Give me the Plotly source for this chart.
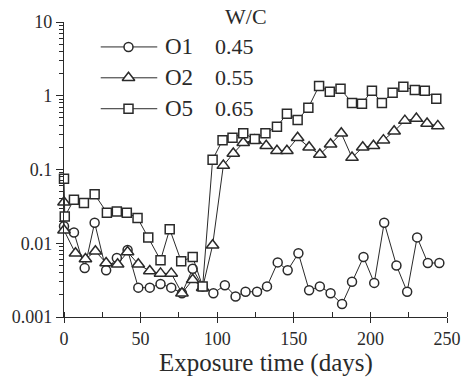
import plotly.graph_objects as go

# ---- data ----
o1_days = [0, 6.5, 13.5, 20, 27.5, 34.5, 41.5, 48.5, 56, 63, 70, 77, 84, 90.5, 97.5, 105, 112, 118.5,
           126, 132.5, 139.5, 146, 153, 160, 167, 174, 181.5, 188, 195.5, 202.5, 209, 217, 224, 230.5,
           237.5, 245]
o1_vals = [0.017, 0.014, 0.0046, 0.019, 0.0043, 0.0063, 0.0081, 0.0025, 0.0025, 0.0028, 0.0025, 0.0021,
           0.0045, 0.0026, 0.0021, 0.0027, 0.0019, 0.0022, 0.0022, 0.0026, 0.0055, 0.0043, 0.0073, 0.0023,
           0.0026, 0.0021, 0.0015, 0.0030, 0.0065, 0.0029, 0.019, 0.0050, 0.0022, 0.012, 0.0054, 0.0054]

o2_days = [0, 0, 7.5, 14, 20.5, 27.5, 35, 41.5, 48.5, 56, 63, 70, 77, 84, 90.5, 97, 104, 110.5, 117,
           124.5, 132, 139, 145.5, 152.5, 160, 167, 174, 181, 188, 195, 202, 208.5, 215.5, 222.5, 230,
           237, 244]
o2_vals = [0.036, 0.015, 0.0073, 0.0061, 0.0078, 0.0054, 0.0052, 0.0076, 0.0052, 0.0042, 0.0039, 0.0039,
           0.0021, 0.0032, 0.0025, 0.0094, 0.113, 0.165, 0.23, 0.25, 0.21, 0.18, 0.18, 0.27, 0.20, 0.16,
           0.22, 0.31, 0.145, 0.20, 0.21, 0.25, 0.33, 0.46, 0.49, 0.42, 0.39]

o5_days = [0, 0.5, 6.5, 13, 20, 28, 34.5, 41, 48, 55, 63, 69, 76.5, 84, 90.5, 97, 103.5, 110, 117,
           124.5, 131.5, 139, 145.5, 152.5, 159.5, 166.5, 173.5, 180.5, 188, 194.5, 201, 207.5, 214.5,
           221.5, 229, 235.5, 243]
o5_vals = [0.075, 0.023, 0.039, 0.035, 0.046, 0.026, 0.027, 0.026, 0.022, 0.012, 0.0059, 0.0155, 0.0057,
           0.0065, 0.0026, 0.136, 0.25, 0.27, 0.31, 0.26, 0.31, 0.38, 0.57, 0.47, 0.69, 1.36, 1.13, 1.24,
           0.80, 0.78, 1.17, 0.80, 1.10, 1.32, 1.2, 1.17, 0.91]

series_names = ["O1", "O2", "O5"]
wc_ratios = ["0.45", "0.55", "0.65"]
symbols = ["circle", "triangle-up", "square"]
marker_sizes = [9, 11, 9]

y_tickvals = [0.001, 0.01, 0.1, 1, 10]
y_ticktext = ["0.001", "0.01", "0.1", "1", "10"]
x_tickvals = [0, 50, 100, 150, 200, 250]

INK = "#2a2a2a"
FONT = "Liberation Serif"

fig = go.Figure()
for name, d, v, sym, sz in zip(series_names, [o1_days, o2_days, o5_days],
                               [o1_vals, o2_vals, o5_vals], symbols, marker_sizes):
    fig.add_trace(go.Scatter(
        x=d, y=v, mode="lines+markers", name=name, showlegend=False,
        line=dict(color=INK, width=1),
        marker=dict(symbol=sym, size=sz, color="white", line=dict(color=INK, width=1.5)),
        cliponaxis=False,
    ))

# ---- hand-made legend (overlay axes in paper-like units) ----
row_y = [0.9155, 0.8108, 0.706]
lx0, lxm, lx1 = 0.0959, 0.1684, 0.2435
for name, wc, sym, sz, ry in zip(series_names, wc_ratios, symbols, marker_sizes, row_y):
    fig.add_trace(go.Scatter(x=[lx0, lx1], y=[ry, ry], mode="lines", xaxis="x2", yaxis="y2",
                             line=dict(color=INK, width=1), showlegend=False, hoverinfo="skip"))
    fig.add_trace(go.Scatter(x=[lxm], y=[ry], mode="markers", xaxis="x2", yaxis="y2",
                             marker=dict(symbol=sym, size=sz, color="white",
                                         line=dict(color=INK, width=1.5)),
                             showlegend=False, hoverinfo="skip", cliponaxis=False))
    fig.add_annotation(x=0.259, y=ry, xref="paper", yref="paper", text=name, showarrow=False,
                       xanchor="left", yanchor="middle", font=dict(family=FONT, size=23, color=INK))
    fig.add_annotation(x=0.389, y=ry, xref="paper", yref="paper", text=wc, showarrow=False,
                       xanchor="left", yanchor="middle", font=dict(family=FONT, size=22, color=INK))

fig.add_annotation(x=0.415, y=1.02, xref="paper", yref="paper", text="W/C", showarrow=False,
                   xanchor="left", yanchor="middle", font=dict(family=FONT, size=22, color=INK))

fig.add_annotation(x=0.527, y=-0.155, xref="paper", yref="paper", text="Exposure time (days)",
                   showarrow=False, xanchor="center", yanchor="middle",
                   font=dict(family=FONT, size=25, color=INK))

minor_y = [m * 10 ** e for e in range(-3, 1) for m in range(2, 10)]

fig.update_layout(
    width=473, height=381,
    margin=dict(l=63, r=24, t=21, b=64),
    paper_bgcolor="white", plot_bgcolor="white",
    font=dict(family=FONT, size=18, color=INK),
    xaxis=dict(range=[0, 250], tickvals=x_tickvals, ticks="outside", ticklen=5, tickwidth=1.2,
               tickcolor=INK, showline=True, linecolor=INK, linewidth=1.3, showgrid=False,
               zeroline=False, tickfont=dict(family=FONT, size=18, color=INK),
               minor=dict(ticks="inside", dtick=25, tick0=0, ticklen=5, tickwidth=1.2,
                          tickcolor=INK, showgrid=False)),
    yaxis=dict(type="log", range=[-3, 1], tickvals=y_tickvals, ticktext=y_ticktext,
               ticks="outside", ticklen=7, tickwidth=1.2, tickcolor=INK, showline=True,
               linecolor=INK, linewidth=1.3, showgrid=False, zeroline=False,
               tickfont=dict(family=FONT, size=18, color=INK),
               minor=dict(ticks="outside", tickvals=minor_y, ticklen=4, tickwidth=1,
                          tickcolor=INK, showgrid=False)),
    xaxis2=dict(range=[0, 1], overlaying="x", visible=False, fixedrange=True),
    yaxis2=dict(range=[0, 1], overlaying="y", visible=False, fixedrange=True),
    showlegend=False,
)

fig.write_html("out.html")
